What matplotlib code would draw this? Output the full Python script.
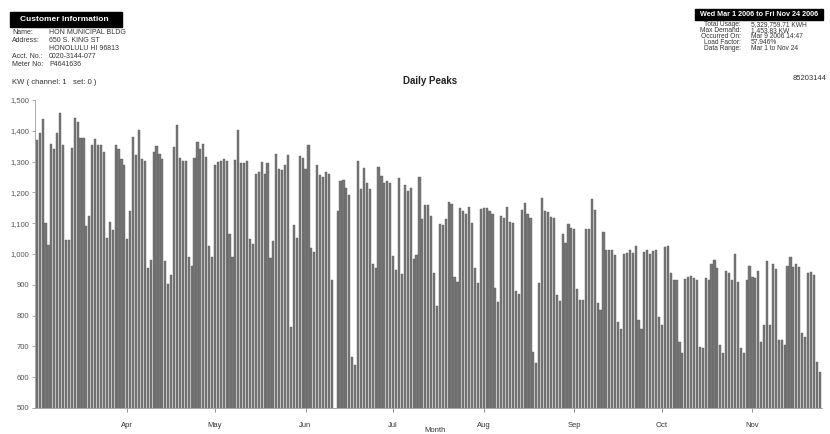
import numpy as np
import matplotlib
matplotlib.use("Agg")
import matplotlib.pyplot as plt
import pandas as pd
from matplotlib.patches import Rectangle

plt.rcParams["font.family"] = ["Liberation Sans", "DejaVu Sans"]

# ---- data (daily peak kW, Mar 1 .. Nov 24 2006) ----
mar = [1370, 1392, 1437, 1101, 1028, 1358, 1341, 1393, 1458, 1353, 1047, 1045, 1345, 1440, 1429, 1376,
       1377, 1090, 1123, 1353, 1375, 1353, 1353, 1331, 1052, 1104, 1077, 1353, 1342, 1310, 1290]
apr = [1050, 1139, 1380, 1323, 1404, 1310, 1301, 953, 982, 1331, 1350, 1326, 1308, 978, 904, 931,
       1348, 1418, 1313, 1302, 1302, 991, 962, 1313, 1364, 1342, 1356, 1315, 1025, 991]
may = [1290, 1299, 1302, 1308, 1302, 1066, 991, 1305, 1402, 1294, 1294, 1302, 1050, 1034, 1261, 1266,
       1299, 1261, 1294, 986, 1043, 1326, 1275, 1272, 1288, 1323, 764, 1094, 1053, 1318, 1312]
jun = [1275, 1353, 1018, 1008, 1288, 1258, 1250, 1266, 1259, 915, np.nan, 1139, 1236, 1240, 1215,
       1191, 667, 640, 1302, 1210, 1280, 1232, 1212, 967, 955, 1283, 1254, 1229, 1236, 1229]
jul = [993, 948, 1247, 934, 1223, 1204, 1213, 985, 998, 1250, 1115, 1158, 1158, 1123, 937, 832,
       1099, 1094, 1115, 1169, 1161, 926, 908, 1148, 1140, 1131, 1153, 1102, 953, 905, 1145]
aug = [1148, 1150, 1139, 1129, 891, 845, 1124, 1116, 1151, 1105, 1101, 880, 870, 1142, 1164, 1131,
       1118, 683, 645, 905, 1183, 1140, 1135, 1121, 1116, 867, 848, 1066, 1036, 1096, 1083]
sep = [1080, 885, 850, 850, 1080, 1080, 1178, 1144, 840, 818, 1072, 1012, 1014, 1012, 996, 780,
       758, 999, 1003, 1012, 1003, 1027, 787, 758, 1007, 1012, 1001, 1009, 1012, 796]
oct_ = [770, 1023, 1026, 938, 917, 917, 715, 677, 919, 924, 928, 921, 917, 699, 694, 921,
        917, 967, 980, 953, 704, 677, 944, 939, 917, 999, 910, 694, 677, 917, 962]
nov = [924, 921, 945, 715, 769, 978, 771, 967, 951, 720, 720, 704, 961, 991, 958, 969,
       958, 742, 731, 939, 942, 931, 648, 616]

y_ticks = [500, 600, 700, 800, 900, 1000, 1100, 1200, 1300, 1400, 1500]

days = pd.date_range("2006-03-01", "2006-11-24", freq="D")
values = np.array(mar + apr + may + jun + jul + aug + sep + oct_ + nov, dtype=float)

W, H = 830, 434
fig = plt.figure(figsize=(W / 100, H / 100), dpi=100)
fig.patch.set_facecolor("white")


def fx(px):
    return px / W


def fy(py):
    return 1 - py / H


ax = fig.add_axes([fx(35), fy(408), fx(787), 308 / H])
x = np.arange(len(values))
ax.bar(x, np.nan_to_num(values, nan=0.0), width=0.74, color="#767676", edgecolor="#5e5e5e",
       linewidth=0.3)
ax.set_ylim(500, 1500)
ax.set_xlim(-0.6, len(values) - 0.2)

month_idx = [i for i, d in enumerate(days) if d.day == 1 and i > 0]
ax.set_xticks(month_idx)
ax.set_xticklabels([days[i].strftime("%b") for i in month_idx], fontsize=5.5)
ax.set_yticks(y_ticks)
ax.set_yticklabels([f"{v:,}" for v in y_ticks], fontsize=5.5)
ax.tick_params(axis="x", length=3, width=0.5, pad=7, colors="#666666", labelcolor="#333333")
ax.tick_params(axis="y", length=2, width=0.5, pad=2, colors="#888888", labelcolor="#555555")
for s in ["top", "right"]:
    ax.spines[s].set_visible(False)
for s in ["left", "bottom"]:
    ax.spines[s].set_color("#999999")
    ax.spines[s].set_linewidth(0.6)

# titles / labels
fig.text(fx(430), fy(81), "Daily Peaks", fontsize=7, fontweight="bold", ha="center",
         va="center", color="#222222")
fig.text(fx(435), fy(431), "Month", fontsize=5.5, ha="center", va="center", color="#333333")
fig.text(fx(12), fy(82), "KW ( channel: 1   set: 0 )", fontsize=5.5, ha="left", va="center",
         color="#333333")
fig.text(fx(826), fy(79), "85203144", fontsize=5.5, ha="right", va="center", color="#333333")

# left header
fig.patches.append(Rectangle((fx(10), fy(27)), fx(112), 15 / H, transform=fig.transFigure,
                             facecolor="black", edgecolor="black"))
fig.text(fx(64), fy(19.5), "Customer Information", fontsize=6, fontweight="bold",
         color="white", ha="center", va="center")
left_rows = [("Name:", "HON MUNICIPAL BLDG", 32), ("Address:", "650 S. KING ST", 40),
             ("", "HONOLULU HI 96813", 48), ("Acct. No.:", "0020-3144-077", 57),
             ("Meter No:", "P4641636", 65)]
for lab, val, yy in left_rows:
    fig.text(fx(12), fy(yy), lab, fontsize=5, ha="left", va="center", color="#333333")
    fig.text(fx(49), fy(yy), val, fontsize=5, ha="left", va="center", color="#333333")

# right header
fig.patches.append(Rectangle((fx(695), fy(20)), fx(128), 11 / H, transform=fig.transFigure,
                             facecolor="black", edgecolor="black"))
fig.text(fx(759), fy(14.5), "Wed Mar 1 2006 to Fri Nov 24 2006", fontsize=5.2, fontweight="bold",
         color="white", ha="center", va="center")
right_rows = [("Total Usage:", "5,329,759.71 KWH", 25), ("Max Demand:", "1,453.83 KW", 31),
              ("Occurred On:", "Mar 9 2006 14:47", 37), ("Load Factor:", "57.946%", 43),
              ("Data Range:", "Mar 1 to Nov 24", 49)]
for lab, val, yy in right_rows:
    fig.text(fx(741), fy(yy), lab, fontsize=4.8, ha="right", va="center", color="#333333")
    fig.text(fx(751), fy(yy), val, fontsize=4.8, ha="left", va="center", color="#333333")

fig.savefig("out.png", dpi=100, facecolor="white")
